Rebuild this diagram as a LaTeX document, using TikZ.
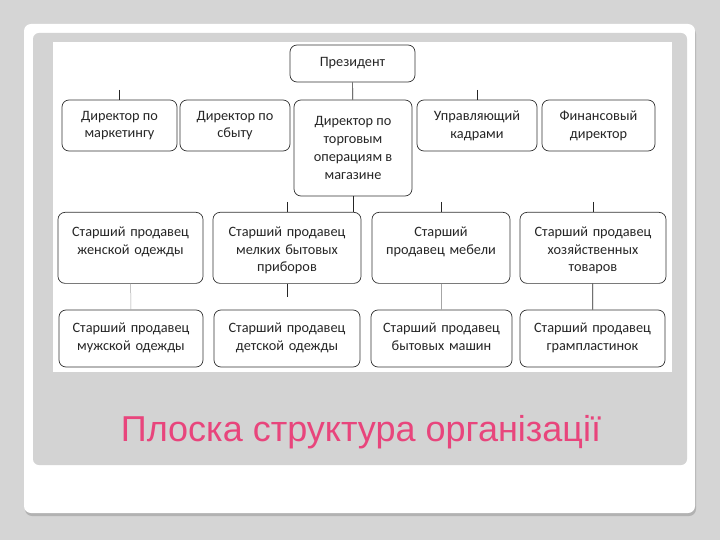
\documentclass[tikz,border=0pt]{standalone}
\usepackage{fontspec}
\setmainfont{Carlito}
\newfontfamily\titlefont{Liberation Sans}
\usetikzlibrary{positioning}
\definecolor{bgray}{HTML}{D5D5D5}
\definecolor{pgray}{HTML}{D3D3D3}
\definecolor{titlepink}{HTML}{E8457C}
\newcommand{\bx}{\fontsize{14.3}{17.8}\selectfont}
\tikzset{
  ob/.style={draw=black!80, line width=0.7pt, rounded corners=7pt, fill=white,
             align=center, font=\bx, text=black!85, inner sep=2pt},
  tb/.style={ob, text height=24pt, text depth=47pt, inner ysep=0pt},
  bb/.style={ob, text height=10pt, text depth=22pt},
  ln/.style={black!85, line width=0.7pt},
  lt/.style={black!35, line width=0.5pt},
}

\begin{document}
\begin{tikzpicture}[x=1pt, y=-1pt]
    \useasboundingbox (0,0) rectangle (720,540);
    % slide
    \fill[bgray] (0,0) rectangle (720,540);
    \fill[black!30, rounded corners=7pt] (25,27) rectangle (696,516);
    \fill[white, rounded corners=7pt] (24,24) rectangle (695,513);
    \fill[pgray, rounded corners=6pt] (33,33) rectangle (687,465);
    \fill[white] (53,42) rectangle (672,372);

    % top
    \node[ob, minimum width=125pt, minimum height=37pt] (pr) at (352.5,63.5) {Президент};

    % directors
    \node[ob, minimum width=115pt, minimum height=51pt] (mk) at (119.5,125.5) {Директор по\\маркетингу};
    \node[ob, minimum width=110pt, minimum height=51pt] (sb) at (235,125.5) {Директор по\\сбыту};
    \node[ob, minimum width=118pt, minimum height=96pt] (to) at (353,148) {Директор по\\торговым\\операциям в\\магазине};
    \node[ob, minimum width=120pt, minimum height=51pt] (hr) at (477,125.5) {Управляющий\\кадрами};
    \node[ob, minimum width=113pt, minimum height=51pt] (fd) at (598.5,125.5) {Финансовый\\директор};

    % senior sellers
    \node[tb, text width=141pt, anchor=north] (zh) at (130.5,212) {Старший продавец\\женской одежды};
    \node[tb, text width=144pt, anchor=north] (mb) at (287,212) {Старший продавец\\мелких бытовых\\приборов};
    \node[tb, text width=134pt, anchor=north] (me) at (441,212) {Старший\\продавец мебели};
    \node[tb, text width=142pt, anchor=north] (hz) at (593,212) {Старший продавец\\хозяйственных\\товаров};

    \node[bb, text width=140pt, minimum height=57pt] (mu) at (131,338.5) {Старший продавец\\мужской одежды};
    \node[bb, text width=142pt, minimum height=57pt] (de) at (287,338.5) {Старший продавец\\детской одежды};
    \node[bb, text width=137pt, minimum height=57pt] (bm) at (441.5,338.5) {Старший продавец\\бытовых машин};
    \node[bb, text width=141pt, minimum height=57pt] (gr) at (592.5,338.5) {Старший продавец\\грампластинок};

    % stubs
    \coordinate (mkt) at (mk.north |- 0,90);
    \coordinate (hrt) at (hr.north |- 0,90);
    \coordinate (tob) at (353,212);
    \coordinate (mbt) at (mb.north |- 0,202);
    \coordinate (met) at (me.north |- 0,202);
    \coordinate (hzt) at (hz.north |- 0,202);
    \coordinate (mbb) at (mb.south |- 0,297);

    \draw[ln] (pr) -- (to);
    \draw[ln] (mkt) -- (mk);
    \draw[ln] (hrt) -- (hr);
    \draw[ln] (to) -- (tob);
    \draw[ln] (mbt) -- (mb);
    \draw[ln] (met) -- (me);
    \draw[ln] (hzt) -- (hz);
    \draw[lt] (zh) -- (mu);
    \draw[ln] (mb) -- (mbb);
    \draw[lt] (me.south) -- (me.south |- bm.north);
    \draw[ln] (hz) -- (gr);

    \node[font=\titlefont\fontsize{36}{42}\selectfont, text=titlepink] (tt) at (361,432) {Плоска структура організації};
  \end{tikzpicture}
\end{document}
